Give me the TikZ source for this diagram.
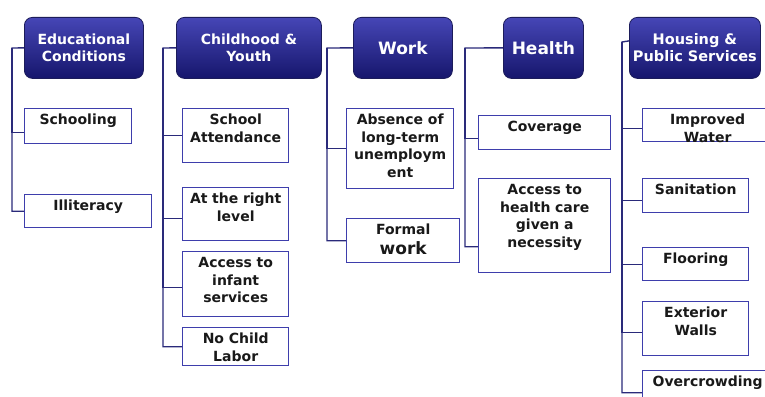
\documentclass[tikz,border=0pt]{standalone}
\usepackage{fontspec}
\setmainfont{DejaVu Sans}
\usepackage{xcolor}
\usepackage{tikz}
\usetikzlibrary{positioning, calc}

\definecolor{hdtop}{RGB}{70,70,182}
\definecolor{hdbot}{RGB}{22,22,108}
\definecolor{hdline}{RGB}{28,28,90}
\definecolor{boxline}{RGB}{62,62,172}
\definecolor{linkc}{RGB}{42,42,122}
\definecolor{ink}{RGB}{25,25,25}

\begin{document}
\begin{tikzpicture}[x=1pt, y=-1pt,
  head/.style={rectangle, draw=hdline, line width=0.8pt, rounded corners=8pt,
               top color=hdtop, bottom color=hdbot, text=white,
               anchor=north west, minimum height=61pt, inner sep=0pt,
               align=center, font=\bfseries\fontsize{14}{17}\selectfont},
  item/.style={rectangle, draw=boxline, line width=1.4pt, fill=white,
               anchor=north west, inner xsep=4pt, inner ysep=4pt,
               text height=12pt, align=center, text=ink,
               font=\bfseries\fontsize{14}{17.5}\selectfont},
  link/.style={draw=linkc, line width=1.4pt}
]
\useasboundingbox (0,0) rectangle (765,396);
\clip (0,0) rectangle (765,396);

% column heads
\node[head, minimum width=119pt] (edu)    at (24,17)  {Educational\\Conditions};
\node[head, minimum width=145pt] (youth)  at (176,17) {Childhood \&\\Youth};
\node[head, minimum width=99pt, font=\bfseries\fontsize{17}{20}\selectfont]
                                 (work)   at (353,17) {Work};
\node[head, minimum width=80pt, font=\bfseries\fontsize{17}{20}\selectfont]
                                 (health) at (503,17) {Health};
\node[head, minimum width=131pt, font=\bfseries\fontsize{14.5}{17}\selectfont]
                                 (house)  at (629,17) {Housing \&\\Public Services};

% indicators (text width = box width - 8, text depth = box height - 20)
\node[item, text width=99pt,  text depth=15pt] (school)  at (24,108)  {Schooling};
\node[item, text width=119pt, text depth=13pt] (illit)   at (24,194)  {Illiteracy};

\node[item, text width=98pt,  text depth=34pt] (attend)  at (182,108) {School\\Attendance};
\node[item, text width=98pt,  text depth=33pt] (level)   at (182,187) {At the right\\level};
\node[item, text width=98pt,  text depth=45pt] (infant)  at (182,251) {Access to\\infant\\services};
\node[item, text width=98pt,  text depth=18pt] (labor)   at (182,327) {No Child\\Labor};

\node[item, text width=99pt,  text depth=60pt] (absence) at (346,108) {Absence of\\long-term\\unemploym\\ent};
\node[item, text width=105pt, text depth=24pt] (formal)  at (346,218) {Formal\\[2pt]{\fontsize{17}{20}\selectfont work}};

\node[item, text width=124pt, text depth=14pt] (cover)   at (478,115) {Coverage};
\node[item, text width=124pt, text depth=74pt] (care)    at (478,178) {Access to\\health care\\given a\\necessity};

\node[item, text width=122pt, text depth=13pt] (water)   at (642,108) {Improved\\Water};
\node[item, text width=98pt,  text depth=14pt] (sanit)   at (642,178) {Sanitation};
\node[item, text width=98pt,  text depth=13pt] (floor)   at (642,247) {Flooring};
\node[item, text width=98pt,  text depth=34pt] (walls)   at (642,301) {Exterior\\Walls};
\node[item, text width=122pt, text depth=14pt] (crowd)   at (642,370) {Overcrowding};

% trunks
\coordinate (eduT)    at (12,48);
\coordinate (youthT)  at (163,48);
\coordinate (workT)   at (327,48);
\coordinate (healthT) at (465,48);
\coordinate (houseT)  at (622,42);

\draw[link] (edu.west) -- (eduT) |- (illit.west);
\draw[link] (eduT) |- ([yshift=-6pt]school.west);

\draw[link] (youth.west) -- (youthT) |- (labor.west);
\draw[link] (youthT) |- (attend.west);
\draw[link] (youthT) |- ([yshift=-4pt]level.west);
\draw[link] (youthT) |- ([yshift=-3pt]infant.west);

\draw[link] (work.west) -- (workT) |- (formal.west);
\draw[link] (workT) |- (absence.west);

\draw[link] (health.west) -- (healthT) |- ([yshift=-21pt]care.west);
\draw[link] (healthT) |- ([yshift=-6pt]cover.west);

\draw[link] ([yshift=7pt]house.west) -- (houseT) |- ([yshift=-5pt]crowd.west);
\draw[link] (houseT) |- ([yshift=-3pt]water.west);
\draw[link] (houseT) |- ([yshift=-5pt]sanit.west);
\draw[link] (houseT) |- (floor.west);
\draw[link] (houseT) |- ([yshift=-4pt]walls.west);
\end{tikzpicture}
\end{document}
